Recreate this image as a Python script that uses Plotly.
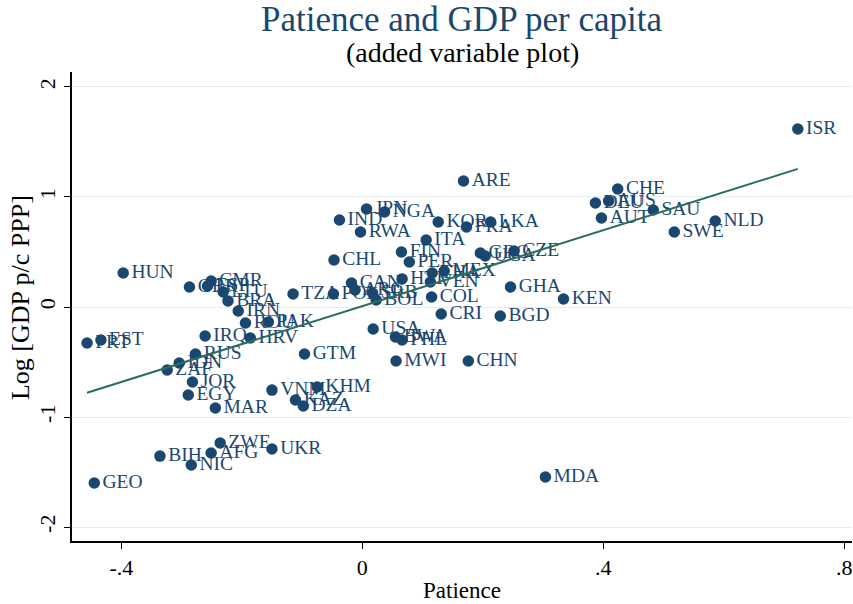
import plotly.graph_objects as go

countries = ["ISR","ARE","CHE","AUS","DEU","AUT","SAU","NLD","SWE","KEN",
             "GHA","BGD","CHN","MDA","LKA","FRA","KOR","ITA","GRC","UGA",
             "CZE","MEX","THA","VEN","HTI","FIN","PER","COL","CRI","CHL",
             "IND","JPN","NGA","RWA","CAN","ARG","POL","SRB","BOL","TZA",
             "USA","BWA","PHL","MWI","GTM","VNM","KHM","KAZ","DZA","UKR",
             "ZWE","AFG","NIC","BIH","GEO","MAR","EGY","JOR","ZAF","IDN",
             "RUS","IRQ","HRV","ROU","PAK","IRN","BRA","LTU","CMR","GBR",
             "HUN","PRT","EST","ESP"]
patience = [0.723,0.168,0.424,0.409,0.387,0.397,0.483,0.586,0.518,0.334,
            0.246,0.229,0.176,0.304,0.213,0.173,0.126,0.106,0.196,0.204,
            0.252,0.136,0.116,0.113,0.066,0.065,0.078,0.115,0.131,-0.047,
            -0.038,0.007,0.037,-0.003,-0.018,-0.012,-0.048,0.017,0.023,-0.115,
            0.018,0.055,0.066,0.056,-0.096,-0.150,-0.075,-0.111,-0.098,-0.150,
            -0.236,-0.251,-0.284,-0.336,-0.445,-0.244,-0.289,-0.282,-0.324,-0.304,
            -0.277,-0.261,-0.186,-0.194,-0.156,-0.206,-0.223,-0.231,-0.251,-0.287,
            -0.397,-0.457,-0.434,-0.257]
log_gdp = [1.618,1.145,1.073,0.964,0.945,0.809,0.882,0.782,0.682,0.073,
           0.182,-0.082,-0.491,-1.545,0.773,0.727,0.773,0.609,0.491,0.464,
           0.509,0.327,0.309,0.227,0.255,0.500,0.409,0.091,-0.064,0.427,
           0.791,0.891,0.864,0.682,0.218,0.155,0.118,0.127,0.064,0.118,
           -0.200,-0.273,-0.300,-0.491,-0.427,-0.755,-0.727,-0.845,-0.900,-1.291,
           -1.236,-1.327,-1.436,-1.355,-1.600,-0.918,-0.800,-0.682,-0.573,-0.509,
           -0.427,-0.264,-0.282,-0.145,-0.136,-0.036,0.055,0.136,0.236,0.182,
           0.309,-0.327,-0.300,0.191]

fit_x = [-0.457, 0.723]
fit_y = [-0.780, 1.255]

x_ticks = [-0.4, 0, 0.4, 0.8]
x_ticktext = ["-.4", "0", ".4", ".8"]
y_ticks = [-2, -1, 0, 1, 2]
y_ticktext = ["-2", "-1", "0", "1", "2"]

NAVY = "#1a476f"
FONT = "Liberation Serif"

fig = go.Figure()
fig.add_trace(go.Scatter(
    x=patience, y=log_gdp, mode="markers+text", text=countries,
    textposition="middle right",
    textfont=dict(family=FONT, size=19.5, color=NAVY),
    marker=dict(size=11.5, color=NAVY, line=dict(width=0)),
    cliponaxis=False, showlegend=False, hoverinfo="skip"))
fig.add_trace(go.Scatter(
    x=fit_x, y=fit_y, mode="lines",
    line=dict(color="#2a6d5b", width=2), showlegend=False, hoverinfo="skip"))

fig.update_layout(
    width=853, height=604,
    margin=dict(l=72, r=1, t=72, b=63),
    paper_bgcolor="white", plot_bgcolor="white",
    font=dict(family=FONT, size=22, color="black"),
    xaxis=dict(range=[-0.482, 0.813], tickvals=x_ticks, ticktext=x_ticktext,
               showgrid=False, zeroline=False, showline=True, linecolor="black",
               linewidth=1.5, ticks="outside", ticklen=6, tickcolor="black",
               tickfont=dict(size=22, family=FONT), automargin=False),
    yaxis=dict(range=[-2.127, 2.136], tickvals=y_ticks, ticktext=y_ticktext,
               showgrid=True, gridcolor="#e6edf2", gridwidth=1.2, zeroline=False,
               showline=True, linecolor="black", linewidth=1.5, ticks="outside",
               ticklen=6, tickcolor="black", tickangle=-90,
               tickfont=dict(size=22, family=FONT), automargin=False),
    annotations=[
        dict(text="Patience and GDP per capita", xref="paper", yref="paper",
             x=0.5, y=1.113, xanchor="center", yanchor="middle", showarrow=False,
             font=dict(size=35, color=NAVY, family=FONT)),
        dict(text="(added variable plot)", xref="paper", yref="paper",
             x=0.5, y=1.0426, xanchor="center", yanchor="middle", showarrow=False,
             font=dict(size=28, color="black", family=FONT)),
        dict(text="Patience", xref="paper", yref="paper",
             x=0.5, y=-0.1045, xanchor="center", yanchor="middle", showarrow=False,
             font=dict(size=23, color="black", family=FONT)),
        dict(text="Log [GDP p/c PPP]", xref="paper", yref="paper",
             x=-0.0667, y=0.52, xanchor="center", yanchor="middle", showarrow=False,
             textangle=-90, font=dict(size=26, color="black", family=FONT)),
    ],
)

fig.write_html("out.html", config={"displayModeBar": False},
               post_script="document.body.style.margin='0px';")
